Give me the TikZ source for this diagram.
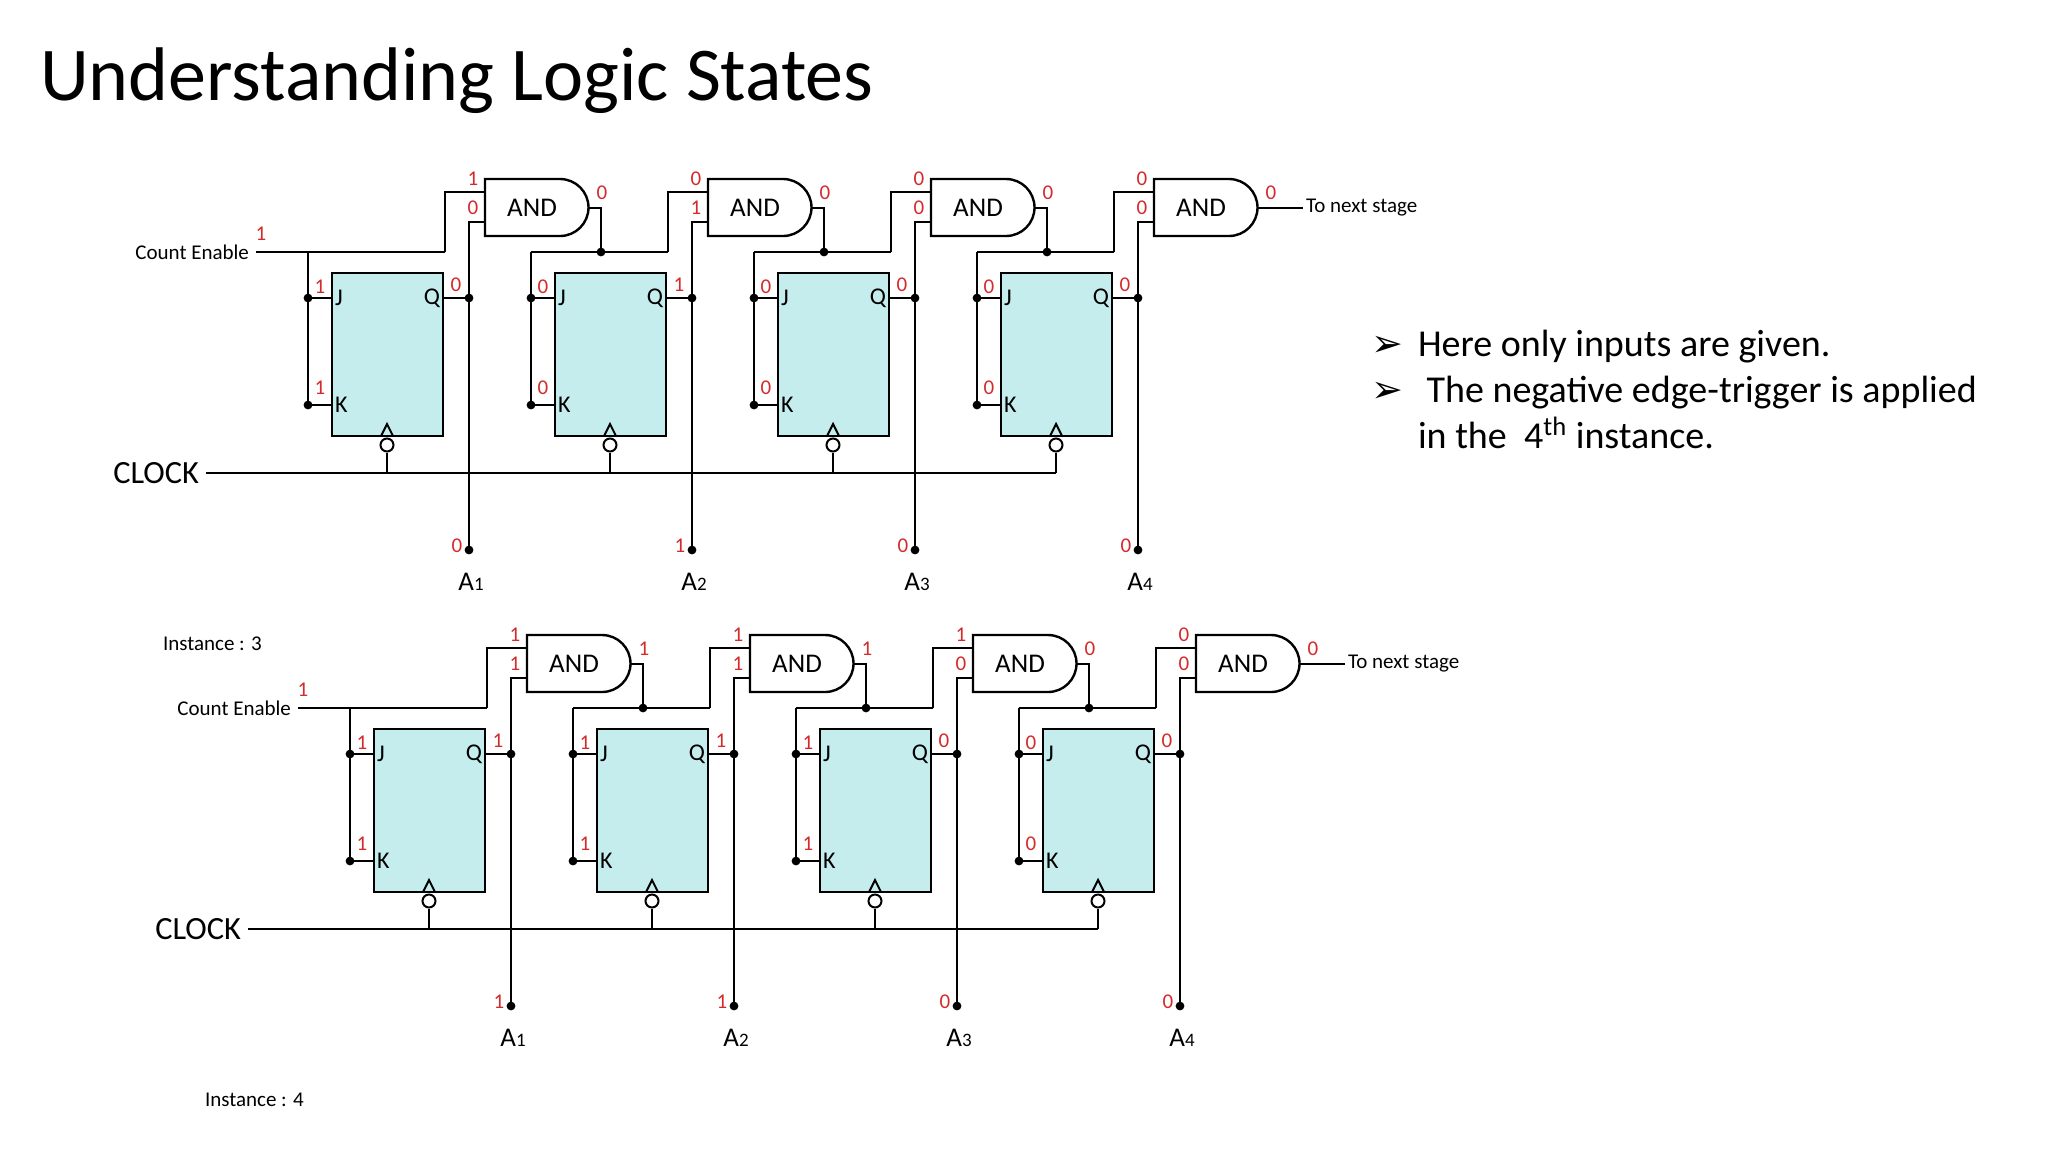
\documentclass[tikz,border=0pt]{standalone}
\usepackage{fontspec}
\setmainfont{Carlito}
\newfontfamily\djv{DejaVu Sans}
\definecolor{ffcol}{HTML}{C6EDED}
\definecolor{val}{HTML}{D42A2A}
\begin{document}
\begin{tikzpicture}[x=0.5pt,y=-0.5pt,line width=1pt,
  wire/.style={draw=black,line width=1.2pt},
  ffbox/.style={draw=black,fill=ffcol,line width=1.2pt},
  vlab/.style={text=val,font=\fontsize{10.5}{11}\selectfont,inner sep=0pt},
  pin/.style={font=\fontsize{12}{13}\selectfont,inner sep=0pt},
  dotc/.style={circle,fill=black,inner sep=0pt,minimum size=4.4pt},
  andtxt/.style={font=\fontsize{13.5}{14}\selectfont,inner sep=0pt},
  blab/.style={font=\fontsize{10.5}{12}\selectfont,inner sep=0pt},
  bullet/.style={font=\fontsize{19}{22}\selectfont,inner sep=0pt,anchor=base west}]
\useasboundingbox (0,0) rectangle (2048,1152);
\fill[white] (0,0) rectangle (2048,1152);
\node[anchor=base west,inner sep=0pt,font=\fontsize{38}{44}\selectfont] (title) at (39,100) {Understanding Logic States};

\newcommand{\circuit}[4]{%
\begin{scope}[shift={#2}]
  \node[blab,anchor=east] (#1ce) at (250,252) {Count Enable};
  \node[vlab] (#1cev) at (261,234) {#3};
  \node[anchor=east,inner sep=0pt,font=\fontsize{16.2}{17}\selectfont] (#1clk) at (200,473) {CLOCK};
  \coordinate (#1clkA) at (206,473);
  \coordinate (#1clkB) at (1056,473);
  \draw[wire] (#1clkA) -- (#1clkB);
  \coordinate (#1ceA) at (256,252);
  \foreach \k/\gu/\gl/\go/\jk/\q in {#4}{
    \pgfmathsetmacro{\X}{223*\k}
    \begin{scope}[xshift=\X*0.5pt]
      \draw[wire] (485,179) -- (560,179) arc[start angle=90,end angle=-90,radius=14.25pt] -- (485,236) -- cycle;
      \node[andtxt] (#1g\k) at (532,208) {AND};
      \coordinate (#1gu\k) at (485,192);
      \coordinate (#1gl\k) at (485,222);
      \coordinate (#1go\k) at (588,208);
      \coordinate (#1up\k) at (445,252);
      \draw[wire] (#1up\k) |- (#1gu\k);
      \node[vlab] at (473,179) {\gu};
      \node[vlab] at (473,208) {\gl};
      \node[vlab] at (602,193) {\go};
      \node[ffbox,minimum width=55.5pt,minimum height=81.5pt,inner sep=0pt] (#1ff\k) at (387.5,354.5) {};
      \node[pin,anchor=west] at (334,298) {J};
      \node[pin,anchor=west] at (334,405) {K};
      \node[pin,anchor=east] at (441,298) {Q};
      \coordinate (#1jv\k) at (308,252);
      \coordinate (#1jd\k) at (308,298);
      \coordinate (#1kd\k) at (308,405);
      \draw[wire] (#1jv\k) -- (#1kd\k) -- (332,405);
      \draw[wire] (#1jd\k) -- (332,298);
      \node[dotc] at (#1jd\k) {};
      \node[dotc] at (#1kd\k) {};
      \node[vlab] at (320,287) {\jk};
      \node[vlab] at (320,388) {\jk};
      \coordinate (#1qd\k) at (469,298);
      \coordinate (#1bd\k) at (469,550);
      \draw[wire] (443,298) -- (#1qd\k);
      \draw[wire] (#1gl\k) -| (#1bd\k);
      \node[dotc] at (#1qd\k) {};
      \node[dotc] at (#1bd\k) {};
      \node[vlab] at (456,285) {\q};
      \node[vlab] at (457,546) {\q};
      \node[anchor=north,inner sep=0pt,font=\fontsize{13.5}{14}\selectfont] (#1A\k) at (471,572) {A{\fontsize{9.5}{10}\selectfont\the\numexpr\k+1\relax}};
      \draw[line width=1pt] (381,436) -- (387,424) -- (393,436);
      \node[circle,draw=black,fill=white,line width=1pt,minimum size=6.5pt,inner sep=0pt] (#1bub\k) at (387,445) {};
      \draw[wire] (#1bub\k.south) -- (387,473);
    \end{scope}
  }
  \draw[wire] (#1ceA) -- (#1up0);
  \foreach \k/\n in {0/1,1/2,2/3}{
    \pgfmathsetmacro{\X}{223*\k}
    \begin{scope}[xshift=\X*0.5pt]
      \coordinate (#1od\k) at (601,252);
      \draw[wire] (#1go\k) -| (#1od\k);
      \node[dotc] at (#1od\k) {};
    \end{scope}
    \draw[wire] (#1jv\n) -- (#1up\n);
  }
  \coordinate (#1nx) at (1303,208);
  \draw[wire] (#1go3) -- (#1nx);
  \node[blab,anchor=west] (#1next) at (1305,208) {To next stage};
\end{scope}}

\circuit{t}{(0,0)}{1}{0/1/0/0/1/0, 1/0/1/0/0/1, 2/0/0/0/0/0, 3/0/0/0/0/0}
\circuit{b}{(42,456)}{1}{0/1/1/1/1/1, 1/1/1/1/1/1, 2/1/0/0/1/0, 3/0/0/0/0/0}

\node[blab,anchor=west] (inst3) at (162,644) {Instance : 3};
\node[blab,anchor=west] (inst4) at (204,1100) {Instance : 4};

\node[bullet] (b1) at (1370,356) {{\djv\fontsize{19}{22}\selectfont ➢}};
\node[bullet] (t1) at (1417,356) {Here only inputs are given.};
\node[bullet] (b2) at (1370,402) {{\djv\fontsize{19}{22}\selectfont ➢}};
\node[bullet] (t2) at (1417,402) {\ The negative edge-trigger is applied};
\node[bullet] (t3) at (1417,448) {in the\ \ 4\textsuperscript{th} instance.};
\end{tikzpicture}
\end{document}
